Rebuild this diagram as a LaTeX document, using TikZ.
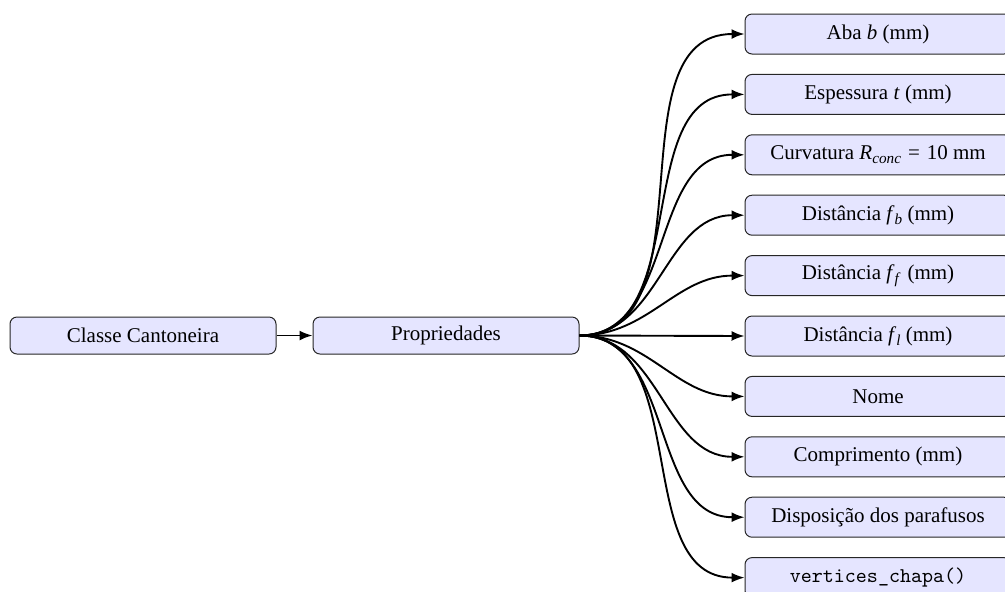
\documentclass[tikz,border=0pt]{standalone}
\usepackage{fontspec}
\setmainfont{Liberation Serif}
\usetikzlibrary{arrows.meta}
% italic subscript, set low like a math index
\newcommand{\idx}[1]{\raisebox{-0.45ex}{\fontsize{7.6pt}{8pt}\selectfont\itshape #1}}
\tikzset{
  box/.style={draw=black!85, line width=0.5pt, fill=blue!10, rounded corners=3.5pt,
    minimum width=133pt, minimum height=18.5pt, inner sep=2pt, font=\fontsize{10.5pt}{12.6pt}\selectfont},
  prop/.style={box, minimum height=20pt},
  link/.style={line width=0.95pt, -{Latex[length=6.5pt,width=5pt]}}
}
\begin{document}
\begin{tikzpicture}[x=0.5pt, y=-0.5pt]
  \clip (0,0) rectangle (1005,591);
  \node[box] (classe) at (143,335.5) {Classe Cantoneira};
  \node[box] (props) at (446,335.5) {Propriedades};
  \node[prop] (aba)  at (878,34.0)  {Aba \textit{b} (mm)};
  \node[prop] (esp)  at (878,94.4)  {Espessura \textit{t} (mm)};
  \node[prop] (curv) at (878,154.8) {Curvatura \textit{R}\idx{conc}\,\,=\,\,10 mm};
  \node[prop] (fb)   at (878,215.2) {Distância \textit{f}\idx{b} (mm)};
  \node[prop] (ff)   at (878,275.6) {Distância \textit{f}\idx{f} \,(mm)};
  \node[prop] (fl)   at (878,336.0) {Distância \textit{f}\idx{l} (mm)};
  \node[prop] (nome) at (878,396.4) {Nome};
  \node[prop] (comp) at (878,456.8) {Comprimento (mm)};
  \node[prop] (disp) at (878,517.2) {Disposição dos parafusos};
  \node[prop] (vert) at (878,577.6) {\ttfamily vertices\_chapa()};
  \draw[link] (classe) -- (props);
  \foreach \t in {aba,esp,curv,fb,ff,nome,comp,disp,vert}
    \draw[link] (props.east) to[out=0,in=180] (\t.west);
  \draw[link] (props.east) -- (fl.west);
\end{tikzpicture}
\end{document}
